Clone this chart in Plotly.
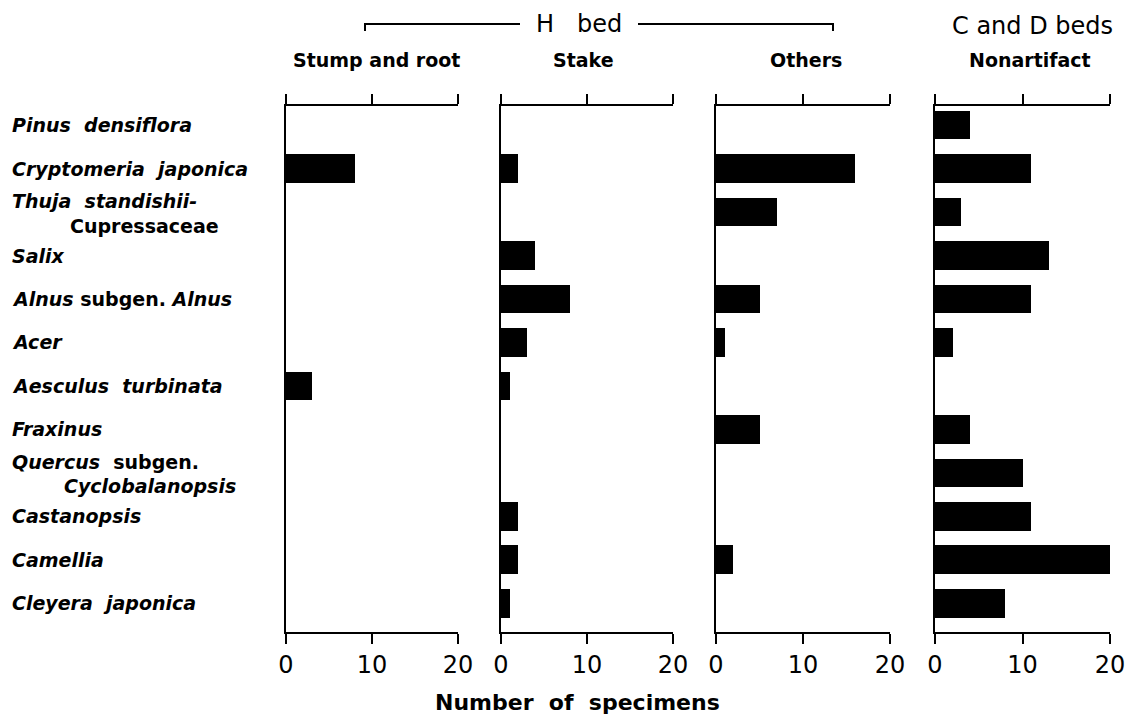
import plotly.graph_objects as go

species = ["Pinus densiflora", "Cryptomeria japonica", "Thuja standishii-Cupressaceae",
           "Salix", "Alnus subgen. Alnus", "Acer", "Aesculus turbinata", "Fraxinus",
           "Quercus subgen. Cyclobalanopsis", "Castanopsis", "Camellia", "Cleyera japonica"]
# display lines for each species label (text, indent_px, yshift)
label_lines = [
    [("<i>Pinus  densiflora</i>", 0, 0)],
    [("<i>Cryptomeria  japonica</i>", 0, 0)],
    [("<i>Thuja  standishii-</i>", 0, 11), ("Cupressaceae", 58, -14)],
    [("<i>Salix</i>", 0, 0)],
    [("<i>Alnus</i> subgen. <i>Alnus</i>", 0, 0)],
    [("<i>Acer</i>", 0, 0)],
    [("<i>Aesculus  turbinata</i>", 0, 0)],
    [("<i>Fraxinus</i>", 0, 0)],
    [("<i>Quercus</i>  subgen.", 0, 11), ("<i>Cyclobalanopsis</i>", 52, -13)],
    [("<i>Castanopsis</i>", 0, 0)],
    [("<i>Camellia</i>", 0, 0)],
    [("<i>Cleyera  japonica</i>", 0, 0)],
]

panel_titles = ["Stump and root", "Stake", "Others", "Nonartifact"]
stump_and_root = [0, 8, 0, 0, 0, 0, 3, 0, 0, 0, 0, 0]
stake = [0, 2, 0, 4, 8, 3, 1, 0, 0, 2, 2, 1]
others = [0, 16, 7, 0, 5, 1, 0, 5, 0, 0, 2, 0]
nonartifact = [4, 11, 3, 13, 11, 2, 0, 4, 10, 11, 20, 8]
series = [stump_and_root, stake, others, nonartifact]
tick_vals = [0, 10, 20]
tick_text = ["0", "10", "20"]

W, H = 1125, 714
panel_px = [(286, 458), (501, 673), (716, 890), (935, 1110)]
title_cx = [376, 583, 806, 1030]
top_px, bot_px = 106, 632
FONT = "DejaVu Sans"

fig = go.Figure()
for i, vals in enumerate(series):
    n = "" if i == 0 else str(i + 1)
    fig.add_trace(go.Bar(x=vals, y=species, orientation="h", width=0.66,
                         marker=dict(color="black", line=dict(width=0)),
                         xaxis="x" + n, yaxis="y" + n, showlegend=False,
                         hoverinfo="skip"))
    x0, x1 = panel_px[i]
    fig.layout["xaxis" + n] = dict(
        domain=[x0 / W, x1 / W], anchor="y" + n, range=[0, 20],
        tickvals=tick_vals, ticktext=tick_text, ticks="outside", ticklen=10,
        tickwidth=2, tickcolor="black", showline=True, linecolor="black",
        linewidth=2, mirror="allticks", showgrid=False, zeroline=False,
        automargin=False, ticklabeloverflow="allow",
        tickfont=dict(family=FONT, size=24, color="black"), fixedrange=True)
    fig.layout["yaxis" + n] = dict(
        domain=[1 - bot_px / H, 1 - top_px / H], anchor="x" + n,
        type="category", categoryarray=species,
        range=[11.66, -0.44], showticklabels=False, ticks="",
        showline=True, linecolor="black", linewidth=2, mirror=False,
        automargin=False,
        showgrid=False, zeroline=False, fixedrange=True)
    fig.add_annotation(text="<b>" + panel_titles[i] + "</b>", xref="paper", yref="paper",
                       x=title_cx[i] / W, y=1 - 60 / H, showarrow=False,
                       xanchor="center", yanchor="middle",
                       font=dict(family=FONT, size=19, color="black"))

# species labels
for sp, lines in zip(species, label_lines):
    for txt, indent, ys in lines:
        fig.add_annotation(text="<b>" + txt + "</b>", xref="paper", yref="y",
                           x=(10 + indent) / W, y=sp,
                           yshift=ys, showarrow=False, xanchor="left", yanchor="middle",
                           font=dict(family=FONT, size=19, color="black"))

# group headers
fig.add_annotation(text="H   bed", xref="paper", yref="paper", x=579 / W, y=1 - 24 / H,
                   showarrow=False, xanchor="center", yanchor="middle",
                   font=dict(family=FONT, size=24, color="black"))
fig.add_annotation(text="C and D beds", xref="paper", yref="paper", x=1032 / W, y=1 - 26 / H,
                   showarrow=False, xanchor="center", yanchor="middle",
                   font=dict(family=FONT, size=24, color="black"))
fig.add_annotation(text="<b>Number  of  specimens</b>", xref="paper", yref="paper", x=577 / W,
                   y=1 - 702 / H, showarrow=False, xanchor="center", yanchor="middle",
                   font=dict(family=FONT, size=22, color="black"))

line_style = dict(color="black", width=2)
for path in [
    f"M {365/W} {1-31/H} L {365/W} {1-24/H} L {520/W} {1-24/H}",
    f"M {638/W} {1-24/H} L {833/W} {1-24/H} L {833/W} {1-31/H}",
]:
    fig.add_shape(type="path", path=path, xref="paper", yref="paper", line=line_style)

fig.update_layout(width=W, height=H, margin=dict(l=0, r=0, t=0, b=0, pad=0),
                  autosize=False, hovermode=False,
                  paper_bgcolor="white", plot_bgcolor="white", bargap=0)
fig.write_html("out.html", config={"displayModeBar": False},
               post_script="document.body.style.margin='0';document.body.style.overflow='hidden';")
